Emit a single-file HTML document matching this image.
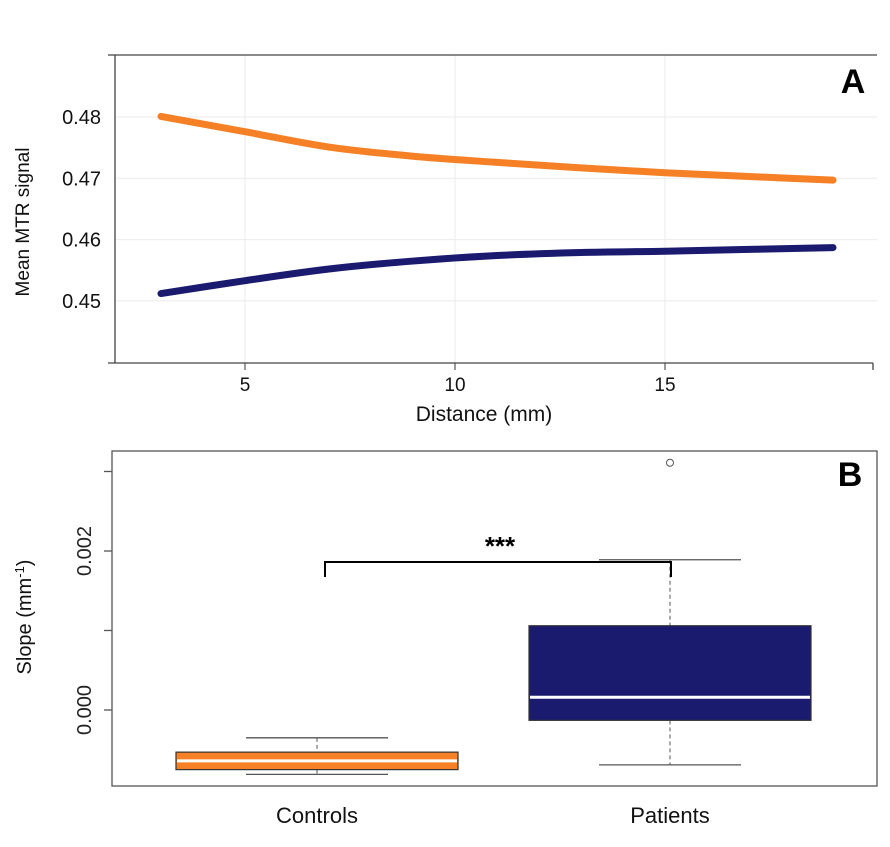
<!DOCTYPE html>
<html><head><meta charset="utf-8"><style>body{margin:0;background:#fff}svg{display:block}text{font-family:"Liberation Sans",sans-serif}</style></head>
<body>
<svg width="890" height="847">
<g id="a"></g>
<g id="b"></g>
</svg>
<script>
const distances=[3,5,7,9,11,13,15,17,19];
const controlsMTR=[0.4801,0.4776,0.4751,0.4736,0.4726,0.4717,0.4709,0.4703,0.4697];
const patientsMTR=[0.4512,0.4533,0.4552,0.4565,0.4574,0.4579,0.4581,0.4584,0.4587];
const xTicksA=[5,10,15];
const yTicksA=[0.45,0.46,0.47,0.48];
const groups=["Controls","Patients"];
const boxMin=[-0.00081,-0.00069];
const boxQ1=[-0.00075,-0.00013];
const boxMed=[-0.00064,0.00016];
const boxQ3=[-0.00053,0.00106];
const boxMax=[-0.00035,0.00189];
const outliers=[[],[0.00311]];
const yTicksB=[0.000,0.001,0.002,0.003];
const yLabelsB=["0.000","","0.002",""];
const boxColors=["#f58025","#1a1a6e"];
const NS="http://www.w3.org/2000/svg";
function mk(p,t,a,txt){const e=document.createElementNS(NS,t);for(const k in a)e.setAttribute(k,a[k]);if(txt!==undefined)e.textContent=txt;p.appendChild(e);return e;}
// Panel A
const A=document.getElementById('a');
const xA=v=>245+(v-5)*42, yA=v=>117+(0.48-v)*6130;
xTicksA.forEach(v=>{const l=mk(A,'line',{x1:xA(v),x2:xA(v),y1:55,y2:363,stroke:'#ebebeb'});
const t=mk(A,'line',{x1:xA(v),x2:xA(v),y1:363,y2:370,stroke:'#333'});
const tx=mk(A,'text',{x:xA(v),y:391,'text-anchor':'middle','font-size':19,fill:'#111'},v);});
yTicksA.forEach(v=>{const l=mk(A,'line',{x1:115,x2:877,y1:yA(v),y2:yA(v),stroke:'#ebebeb'});
const tx=mk(A,'text',{x:101,y:yA(v)+7,'text-anchor':'end','font-size':20,fill:'#111'},v.toFixed(2));});
const ax=mk(A,'path',{d:'M108 55H877M115 55V363M108 363H873M873 363V370',stroke:'#444','stroke-width':1.3,fill:'none'});
function curve(vals){let d='';const pts=distances.map((x,i)=>[xA(x),yA(vals[i])]);d='M'+pts[0];for(let i=0;i<pts.length-1;i++){const p0=pts[i-1]||pts[i],p1=pts[i],p2=pts[i+1],p3=pts[i+2]||p2;d+=' C'+(p1[0]+(p2[0]-p0[0])/6)+','+(p1[1]+(p2[1]-p0[1])/6)+' '+(p2[0]-(p3[0]-p1[0])/6)+','+(p2[1]-(p3[1]-p1[1])/6)+' '+p2;}return d;}
const c1=mk(A,'path',{d:curve(controlsMTR),stroke:'#f58025','stroke-width':7,fill:'none','stroke-linecap':'round'});
const c2=mk(A,'path',{d:curve(patientsMTR),stroke:'#1a1a6e','stroke-width':7,fill:'none','stroke-linecap':'round'});
const ya=mk(A,'text',{x:0,y:0,transform:'translate(29,222) rotate(-90)','text-anchor':'middle','font-size':19,fill:'#111'},'Mean MTR signal');
const xa=mk(A,'text',{x:484,y:421,'text-anchor':'middle','font-size':21,fill:'#111'},'Distance (mm)');
const la=mk(A,'text',{x:853,y:93,'text-anchor':'middle','font-size':34,'font-weight':'bold',fill:'#000'},'A');
// Panel B
const B=document.getElementById('b');
const yB=v=>710-v*79500, cx=[317,670], hw=141, cw=71;
const fr=mk(B,'rect',{x:112,y:451,width:765,height:335,fill:'none',stroke:'#555','stroke-width':1.3});
yTicksB.forEach((v,i)=>{const t=mk(B,'line',{x1:104,x2:112,y1:yB(v),y2:yB(v),stroke:'#555','stroke-width':1.3});
if(yLabelsB[i]){const tx=mk(B,'text',{x:0,y:0,transform:`translate(91,${yB(v)}) rotate(-90)`,'text-anchor':'middle','font-size':20,fill:'#222'},yLabelsB[i]);}});
groups.forEach((g,i)=>{const x=cx[i];
const w=mk(B,'path',{d:`M${x} ${yB(boxMax[i])}V${yB(boxQ3[i])}M${x} ${yB(boxQ1[i])}V${yB(boxMin[i])}`,stroke:'#555','stroke-dasharray':'4,3',fill:'none'});
const caps=mk(B,'path',{d:`M${x-cw} ${yB(boxMax[i])}H${x+cw}M${x-cw} ${yB(boxMin[i])}H${x+cw}`,stroke:'#555','stroke-width':1.3});
const r=mk(B,'rect',{x:x-hw,y:yB(boxQ3[i]),width:2*hw,height:yB(boxQ1[i])-yB(boxQ3[i]),fill:boxColors[i],stroke:'#333','stroke-width':1.2});
const m=mk(B,'line',{x1:x-hw+1,x2:x+hw-1,y1:yB(boxMed[i]),y2:yB(boxMed[i]),stroke:'#fff','stroke-width':3});
outliers[i].forEach(o=>{const c=mk(B,'circle',{cx:x,cy:yB(o),r:3.5,fill:'none',stroke:'#555'});});
const tl=mk(B,'text',{x:x,y:823,'text-anchor':'middle','font-size':22,fill:'#111'},g);});
const br=mk(B,'path',{d:'M325 577V562H671V577',stroke:'#000','stroke-width':2,fill:'none'});
const st=mk(B,'text',{x:500,y:555,'text-anchor':'middle','font-size':26,'font-weight':'bold',fill:'#000'},'***');
const yb=mk(B,'text',{x:0,y:0,transform:'translate(31,617) rotate(-90)','text-anchor':'middle','font-size':20,fill:'#111'});
yb.innerHTML='Slope (mm<tspan dy="-7" font-size="13">-1</tspan><tspan dy="7">)</tspan>';
const lb=mk(B,'text',{x:850,y:486,'text-anchor':'middle','font-size':34,'font-weight':'bold',fill:'#000'},'B');
</script>
</body></html>
